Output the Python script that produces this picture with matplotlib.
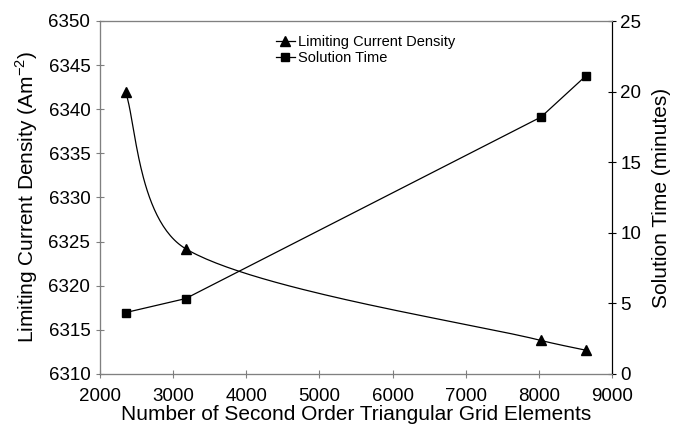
import numpy as np
import matplotlib.pyplot as plt

plt.rcParams['font.family'] = ['Liberation Sans', 'DejaVu Sans']

elements = [2350, 3170, 8030, 8640]
current_density = [6341.9, 6324.2, 6313.8, 6312.7]
solution_time = [4.35, 5.34, 18.2, 21.1]

XMIN, XMAX = 2000, 9000
YMIN, YMAX = 6310, 6350
TMIN, TMAX = 0, 25


def excel_smooth(xs, ys, sx, sy, n=60):
    # bezier smoothing done in screen-like units, then mapped back to data
    P = np.column_stack([(np.array(xs) - XMIN) * sx, (np.array(ys) - YMIN) * sy])
    out = [P[0]]
    m = len(P)
    for i in range(m - 1):
        p0 = P[max(i - 1, 0)]
        p1, p2 = P[i], P[i + 1]
        p3 = P[min(i + 2, m - 1)]
        seg = np.linalg.norm(p2 - p1)
        v1 = (p2 - p0) / 6.0
        v2 = (p3 - p1) / 6.0
        for v in (v1, v2):
            L = np.linalg.norm(v)
            if L > seg / 3.0:
                v *= (seg / 3.0) / L
        c1 = p1 + v1
        c2 = p2 - v2
        t = np.linspace(0, 1, n)[1:, None]
        b = ((1 - t) ** 3) * p1 + 3 * ((1 - t) ** 2) * t * c1 + 3 * (1 - t) * t ** 2 * c2 + t ** 3 * p2
        out.extend(b)
    out = np.array(out)
    return out[:, 0] / sx + XMIN, out[:, 1] / sy + YMIN


fig = plt.figure(figsize=(6.82, 4.29), dpi=100)
ax = fig.add_axes([100 / 682, 55 / 429, 512 / 682, 353 / 429])
ax2 = ax.twinx()

sx = 512 / (XMAX - XMIN)
sy = 353 / (YMAX - YMIN)
cx, cy = excel_smooth(elements, current_density, sx, sy)
ax.plot(cx, cy, color='black', lw=0.9)
ax.plot(elements, current_density, ls='none', marker='^', ms=7, color='black')
ax2.plot(elements, solution_time, color='black', lw=0.9, marker='s', ms=5.5)

ax.set_xlim(XMIN, XMAX)
ax.set_ylim(YMIN, YMAX)
ax2.set_ylim(TMIN, TMAX)
ax.set_xticks(range(2000, 9001, 1000))
ax.set_yticks(range(6310, 6351, 5))
ax2.set_yticks(range(0, 26, 5))

grey = '#808080'
for s in ['left', 'bottom', 'top']:
    ax2.spines[s].set_color(grey)
ax2.spines['right'].set_color('black')
ax.tick_params(axis='both', direction='inout', length=6, color=grey, labelsize=13.5)
ax.tick_params(axis='x', pad=7)
ax.tick_params(axis='y', pad=4)
ax2.tick_params(axis='y', direction='inout', length=6, color='black', labelsize=13.5, pad=3)

ax.set_xlabel('Number of Second Order Triangular Grid Elements', fontsize=15, labelpad=0)
ax.set_ylabel('Limiting Current Density (Am$^{\\mathregular{-2}}$)', fontsize=15, labelpad=6)
ax2.set_ylabel('Solution Time (minutes)', fontsize=15, labelpad=8)

h1 = plt.Line2D([], [], color='black', lw=0.9, marker='^', ms=7)
h2 = plt.Line2D([], [], color='black', lw=0.9, marker='s', ms=5.5)
fig.legend([h1, h2], ['Limiting Current Density', 'Solution Time'],
           loc='upper left', bbox_to_anchor=(270 / 682, 1 - 29 / 429),
           frameon=False, fontsize=10.5, handlelength=1.3, handletextpad=0.2,
           labelspacing=0.15, borderaxespad=0)

fig.savefig('out.png', dpi=100)
